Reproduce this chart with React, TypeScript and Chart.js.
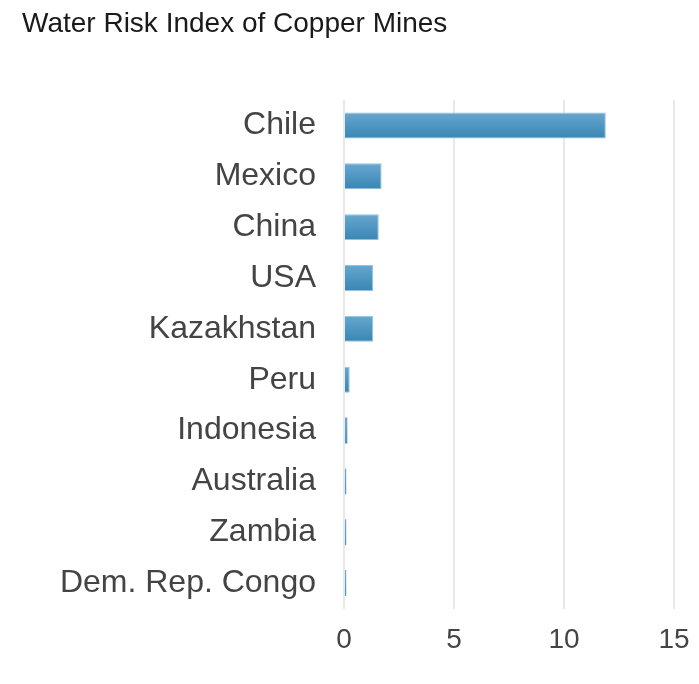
import React, { useEffect, useRef } from "react";
import { Chart, registerables } from "chart.js";

Chart.register(...registerables);

const title = "Water Risk Index of Copper Mines";
const countries = [
  "Chile",
  "Mexico",
  "China",
  "USA",
  "Kazakhstan",
  "Peru",
  "Indonesia",
  "Australia",
  "Zambia",
  "Dem. Rep. Congo",
];
const waterRisk = [11.9, 1.71, 1.58, 1.33, 1.33, 0.26, 0.15, 0.1, 0.1, 0.1];
const xTicks = [0, 5, 10, 15];

const FONT = "'Liberation Sans', Arial, sans-serif";

export default function App() {
  const ref = useRef<HTMLCanvasElement | null>(null);

  useEffect(() => {
    if (!ref.current) return;
    const titlePlugin = {
      id: "customTitle",
      afterDraw(chart: any) {
        const ctx = chart.ctx;
        ctx.save();
        ctx.font = `28px ${FONT}`;
        ctx.fillStyle = "#1a1a1a";
        ctx.textAlign = "left";
        ctx.textBaseline = "middle";
        ctx.fillText(title, 22, 24);
        ctx.restore();
      },
    };
    const chart = new Chart(ref.current, {
      type: "bar",
      data: {
        labels: countries,
        datasets: [
          {
            data: waterRisk,
            backgroundColor: (c: any) => {
              const ch = c.chart;
              const ys = ch.scales && ch.scales.y;
              if (!ys || !ch.chartArea) return "#4d97c4";
              const yc = ys.getPixelForValue(c.dataIndex);
              const g = ch.ctx.createLinearGradient(0, yc - 13, 0, yc + 13);
              if ((c.raw ?? 0) < 0.2) {
                g.addColorStop(0, "#6faad3");
                g.addColorStop(1, "#4a93c2");
              } else {
                g.addColorStop(0, "#68a7cf");
                g.addColorStop(1, "#3886b4");
              }
              return g;
            },
            borderColor: "#93c3e1",
            borderWidth: (c: any) => ((c.raw ?? 0) < 0.2 ? 0 : 1),
            categoryPercentage: 1,
            barPercentage: 0.51,
          },
        ],
      },
      options: {
        indexAxis: "y",
        responsive: false,
        animation: false,
        layout: { padding: { top: 100, right: 25, bottom: 0, left: 0 } },
        plugins: {
          legend: { display: false },
          tooltip: { enabled: false },
          title: { display: false },
        },
        scales: {
          x: {
            type: "linear",
            min: 0,
            max: 15,
            afterBuildTicks: (s: any) => {
              s.ticks = xTicks.map((v) => ({ value: v }));
            },
            afterFit: (s: any) => {
              s.height = 75.5;
              s.paddingLeft = 0;
              s.paddingRight = 0;
            },
            grid: { color: "#e8e8e8", lineWidth: 2, drawTicks: false },
            border: { display: false },
            ticks: {
              padding: 15,
              color: "#444444",
              font: { family: FONT, size: 28 },
            },
          },
          y: {
            afterFit: (s: any) => {
              s.width = 344;
            },
            grid: { display: false, drawTicks: false },
            border: { display: false },
            ticks: {
              padding: 28,
              color: "#444444",
              font: { family: FONT, size: 32 },
              autoSkip: false,
            },
          },
        },
      },
      plugins: [titlePlugin],
    } as any);
    return () => chart.destroy();
  }, []);

  return (
    <div style={{ position: "absolute", left: 0, top: 0, width: 699, height: 684 }}>
      <canvas ref={ref} width={699} height={684} />
    </div>
  );
}
